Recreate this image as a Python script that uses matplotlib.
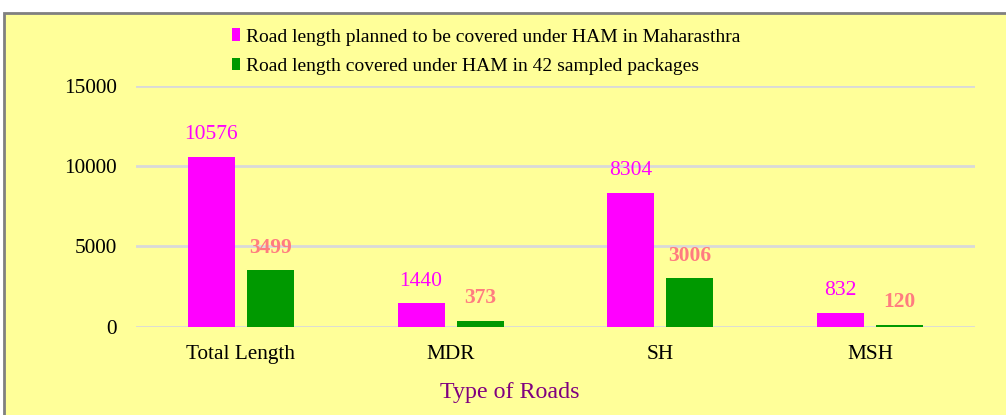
import matplotlib
matplotlib.use("Agg")
import matplotlib.pyplot as plt
import matplotlib.patches as patches
import numpy as np

plt.rcParams['font.family'] = ['Liberation Serif', 'DejaVu Serif']

# data
categories = ['Total Length', 'MDR', 'SH', 'MSH']
planned = [10576, 1440, 8304, 832]
covered = [3499, 373, 3006, 120]
series_names = ['Road length planned to be covered under HAM in Maharasthra',
                'Road length covered under HAM in 42 sampled packages']
yticks = [0, 5000, 10000, 15000]

W, H = 1006, 415
fig = plt.figure(figsize=(W / 100, H / 100), dpi=100)
fig.patch.set_facecolor('white')

# yellow chart frame
frame = patches.Rectangle((4 / W, -0.05), 1.2, 1 - 13 / H + 0.05,
                          transform=fig.transFigure, facecolor='#FFFF99',
                          edgecolor='#808080', linewidth=2, zorder=-5)
fig.patches.append(frame)

ax = fig.add_axes([136 / W, 88.5 / H, (975 - 136) / W, (326.5 - 85.7) / H])
ax.set_zorder(2)
ax.set_facecolor('none')

x = np.arange(len(categories))
bw = 0.224
gap = 0.057
b1 = ax.bar(x - (bw + gap) / 2, planned, bw, color='#FF00FF', zorder=3,
            label=series_names[0])
b2 = ax.bar(x + (bw + gap) / 2, covered, bw, color='#009900', zorder=3,
            label=series_names[1])

for rect, v in zip(b1, planned):
    ax.annotate(str(v), (rect.get_x() + rect.get_width() / 2, v),
                xytext=(0, 16), textcoords='offset points', ha='center',
                va='center', color='#FF00FF', fontsize=15.5)
for rect, v in zip(b2, covered):
    ax.annotate(str(v), (rect.get_x() + rect.get_width() / 2, v),
                xytext=(0, 16), textcoords='offset points', ha='center',
                va='center', color='#FF7C80', fontsize=15.5, fontweight='bold')

ax.set_xlim(-0.5, len(categories) - 0.5)
ax.set_ylim(0, 15000)
ax.set_yticks(yticks)
ax.set_xticks(x)
ax.set_xticklabels(categories)
ax.tick_params(axis='both', length=0, labelsize=15.3, colors='black')
ax.tick_params(axis='x', pad=13.5)
ax.tick_params(axis='y', pad=14)
ax.grid(axis='y', color='#D9D9D9', linewidth=2, zorder=1)
for s in ax.spines.values():
    s.set_visible(False)

fig.text(510 / W, 1 - 392 / H, 'Type of Roads', color='#800080', fontsize=17.3,
         ha='center', va='center')

leg = fig.legend(handles=[b1, b2], loc='upper left',
                 bbox_to_anchor=(214 / W, 1 - 11 / H), frameon=False,
                 fontsize=14, handlelength=0.45, handleheight=0.6,
                 handletextpad=0.32, labelspacing=0.62)
leg.set_zorder(3)

fig.savefig('out.png', dpi=100, facecolor='white')
